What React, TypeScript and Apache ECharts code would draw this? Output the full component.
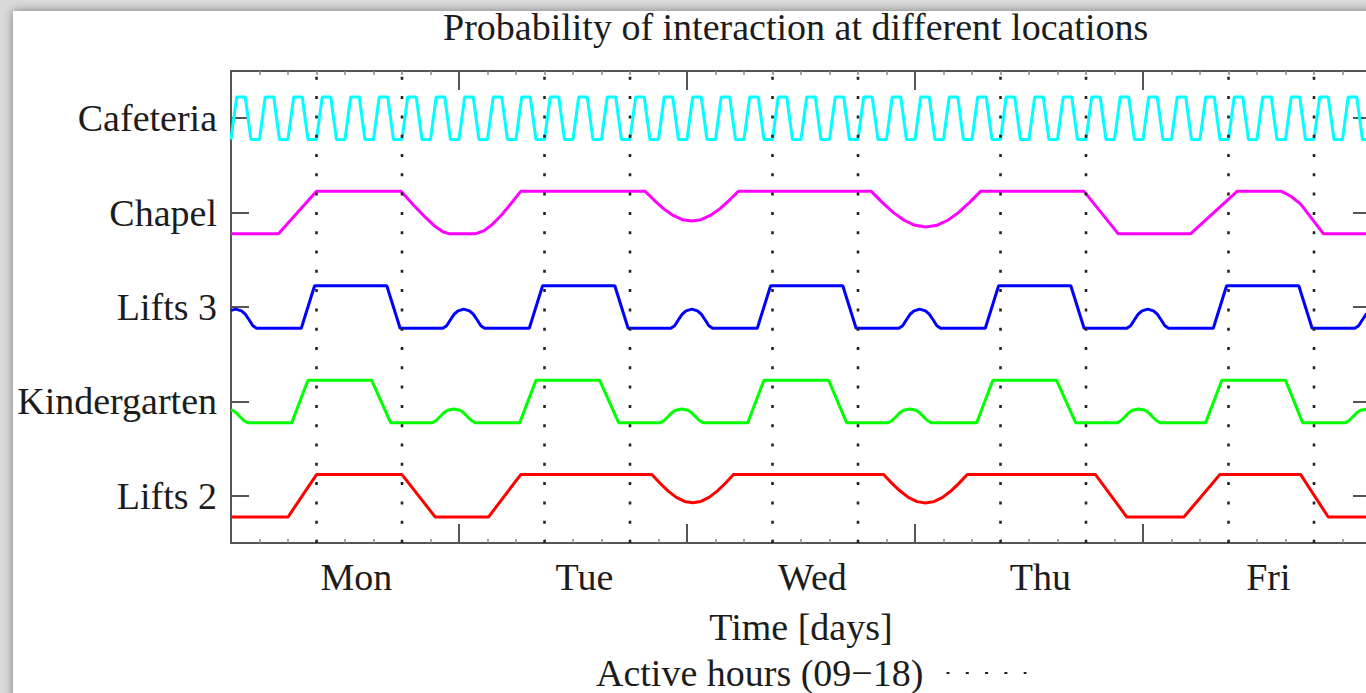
import React, { useEffect, useRef } from 'react';
import * as echarts from 'echarts';

// ---------- data (hours since Monday 00:00, probability 0..1) ----------
const locations = ['Lifts 2', 'Kindergarten', 'Lifts 3', 'Chapel', 'Cafeteria'];
const locationColors = ['#ff0000', '#00ff00', '#0000ff', '#ff00ff', '#00ffff'];
const locationTicks = [0, 1, 2, 3, 4];

const dayLabels = ['Mon', 'Tue', 'Wed', 'Thu', 'Fri'];
const dayLabelHours = [13.2, 37.2, 61.2, 85.2, 109.2];
const activeHourLines = [9, 18, 33, 42, 57, 66, 81, 90, 105, 114];
const activeLegend = 'Active hours (09\u221218)';

const lifts2: number[][] = [
  [0, 0], [6, 0], [9, 1], [18, 1], [21.5, 0], [27.1, 0], [30.5, 1], [44.3, 1],
  [45.16, 0.795], [46.02, 0.609], [46.88, 0.462], [47.74, 0.368], [48.6, 0.335], [49.46, 0.368],
  [50.32, 0.462], [51.18, 0.609], [52.04, 0.795], [52.9, 1],
  [68.7, 1], [69.58, 0.793], [70.46, 0.606], [71.34, 0.458], [72.22, 0.363], [73.1, 0.33],
  [73.98, 0.363], [74.86, 0.458], [75.74, 0.606], [76.62, 0.793], [77.5, 1],
  [91, 1], [94.3, 0], [100.3, 0], [104.1, 1], [112.6, 1], [115.5, 0], [120, 0],
];

const kindergarten: number[][] = [
  [0, 0.295], [0.15, 0.29], [0.55, 0.23], [0.95, 0.14], [1.35, 0.05], [1.75, 0],
  [6.4, 0], [8.1, 1], [14.8, 1], [16.8, 0],
  [21.2, 0], [21.6, 0.05], [22.0, 0.14], [22.4, 0.23], [22.8, 0.29], [23.45, 0.32], [24.1, 0.29], [24.5, 0.23], [24.9, 0.14], [25.3, 0.05], [25.7, 0],
  [30.4, 0], [32.1, 1], [38.8, 1], [40.8, 0],
  [45.2, 0], [45.6, 0.05], [46.0, 0.14], [46.4, 0.23], [46.8, 0.29], [47.45, 0.32], [48.1, 0.29], [48.5, 0.23], [48.9, 0.14], [49.3, 0.05], [49.7, 0],
  [54.4, 0], [56.1, 1], [62.9, 1], [64.8, 0],
  [69.2, 0], [69.6, 0.05], [70.0, 0.14], [70.4, 0.23], [70.8, 0.29], [71.45, 0.32], [72.1, 0.29], [72.5, 0.23], [72.9, 0.14], [73.3, 0.05], [73.7, 0],
  [78.5, 0], [80.2, 1], [86.9, 1], [88.9, 0],
  [93.3, 0], [93.7, 0.05], [94.1, 0.14], [94.5, 0.23], [94.9, 0.29], [95.55, 0.32], [96.2, 0.29], [96.6, 0.23], [97.0, 0.14], [97.4, 0.05], [97.8, 0],
  [102.6, 0], [104.3, 1], [111.0, 1], [112.8, 0],
  [117.3, 0], [117.7, 0.05], [118.1, 0.14], [118.5, 0.23], [118.9, 0.29], [119.55, 0.32], [120, 0.3],
];

const lifts3: number[][] = [
  [0, 0.42], [0.5, 0.45], [1.1, 0.41], [1.5, 0.33], [1.9, 0.2], [2.3, 0.06], [2.7, 0],
  [7.4, 0], [8.8, 1], [16.4, 1], [17.8, 0],
  [22.3, 0], [22.7, 0.06], [23.1, 0.2], [23.5, 0.33], [23.9, 0.41], [24.5, 0.45], [25.1, 0.41], [25.5, 0.33], [25.9, 0.2], [26.3, 0.06], [26.7, 0],
  [31.4, 0], [32.8, 1], [40.4, 1], [41.8, 0],
  [46.3, 0], [46.7, 0.06], [47.1, 0.2], [47.5, 0.33], [47.9, 0.41], [48.5, 0.45], [49.1, 0.41], [49.5, 0.33], [49.9, 0.2], [50.3, 0.06], [50.7, 0],
  [55.4, 0], [56.8, 1], [64.4, 1], [65.8, 0],
  [70.3, 0], [70.7, 0.06], [71.1, 0.2], [71.5, 0.33], [71.9, 0.41], [72.5, 0.45], [73.1, 0.41], [73.5, 0.33], [73.9, 0.2], [74.3, 0.06], [74.7, 0],
  [79.4, 0], [80.8, 1], [88.4, 1], [89.8, 0],
  [94.3, 0], [94.7, 0.06], [95.1, 0.2], [95.5, 0.33], [95.9, 0.41], [96.5, 0.45], [97.1, 0.41], [97.5, 0.33], [97.9, 0.2], [98.3, 0.06], [98.7, 0],
  [103.4, 0], [104.8, 1], [112.4, 1], [113.8, 0],
  [118.3, 0], [118.7, 0.06], [119.1, 0.2], [119.5, 0.33], [119.9, 0.41], [120, 0.42],
];

const chapel: number[][] = [
  [0, 0], [5, 0], [9, 1], [17.9, 1], [19.2, 0.68], [20.5, 0.38], [21.5, 0.17], [22.3, 0.05], [23, 0], [25.7, 0],
  [26.6, 0.07], [27.5, 0.22], [28.5, 0.45], [29.5, 0.72], [30.5, 1],
  [43.6, 1], [44.58, 0.784], [45.56, 0.588], [46.54, 0.434], [47.52, 0.334], [48.5, 0.3], [49.48, 0.334],
  [50.46, 0.434], [51.44, 0.588], [52.42, 0.784], [53.4, 1],
  [67.4, 1], [68.55, 0.74], [69.7, 0.506], [70.85, 0.32], [72.0, 0.201], [73.15, 0.16], [74.3, 0.201],
  [75.45, 0.32], [76.6, 0.506], [77.75, 0.74], [78.9, 1],
  [89.8, 1], [93.4, 0], [101, 0], [105.9, 1], [110.6, 1], [111.6, 0.88], [112.6, 0.7], [115, 0], [120, 0],
];

const cafeteria: number[][] = [
  [0, 0], [0.6, 1], [1.5, 1], [2.1, 0], [3, 0], [3.6, 1], [4.5, 1], [5.1, 0],
  [6, 0], [6.6, 1], [7.5, 1], [8.1, 0], [9, 0], [9.6, 1], [10.5, 1], [11.1, 0],
  [12, 0], [12.6, 1], [13.5, 1], [14.1, 0], [15, 0], [15.6, 1], [16.5, 1], [17.1, 0],
  [18, 0], [18.6, 1], [19.5, 1], [20.1, 0], [21, 0], [21.6, 1], [22.5, 1], [23.1, 0],
  [24, 0], [24.6, 1], [25.5, 1], [26.1, 0], [27, 0], [27.6, 1], [28.5, 1], [29.1, 0],
  [30, 0], [30.6, 1], [31.5, 1], [32.1, 0], [33, 0], [33.6, 1], [34.5, 1], [35.1, 0],
  [36, 0], [36.6, 1], [37.5, 1], [38.1, 0], [39, 0], [39.6, 1], [40.5, 1], [41.1, 0],
  [42, 0], [42.6, 1], [43.5, 1], [44.1, 0], [45, 0], [45.6, 1], [46.5, 1], [47.1, 0],
  [48, 0], [48.6, 1], [49.5, 1], [50.1, 0], [51, 0], [51.6, 1], [52.5, 1], [53.1, 0],
  [54, 0], [54.6, 1], [55.5, 1], [56.1, 0], [57, 0], [57.6, 1], [58.5, 1], [59.1, 0],
  [60, 0], [60.6, 1], [61.5, 1], [62.1, 0], [63, 0], [63.6, 1], [64.5, 1], [65.1, 0],
  [66, 0], [66.6, 1], [67.5, 1], [68.1, 0], [69, 0], [69.6, 1], [70.5, 1], [71.1, 0],
  [72, 0], [72.6, 1], [73.5, 1], [74.1, 0], [75, 0], [75.6, 1], [76.5, 1], [77.1, 0],
  [78, 0], [78.6, 1], [79.5, 1], [80.1, 0], [81, 0], [81.6, 1], [82.5, 1], [83.1, 0],
  [84, 0], [84.6, 1], [85.5, 1], [86.1, 0], [87, 0], [87.6, 1], [88.5, 1], [89.1, 0],
  [90, 0], [90.6, 1], [91.5, 1], [92.1, 0], [93, 0], [93.6, 1], [94.5, 1], [95.1, 0],
  [96, 0], [96.6, 1], [97.5, 1], [98.1, 0], [99, 0], [99.6, 1], [100.5, 1], [101.1, 0],
  [102, 0], [102.6, 1], [103.5, 1], [104.1, 0], [105, 0], [105.6, 1], [106.5, 1], [107.1, 0],
  [108, 0], [108.6, 1], [109.5, 1], [110.1, 0], [111, 0], [111.6, 1], [112.5, 1], [113.1, 0],
  [114, 0], [114.6, 1], [115.5, 1], [116.1, 0], [117, 0], [117.6, 1], [118.5, 1], [119.1, 0],
  [120, 0],
];

const locationSeries = [lifts2, kindergarten, lifts3, chapel, cafeteria];

// ---------- chart ----------
const FONT = '"Liberation Serif", "DejaVu Serif", serif';
const TEXT = '#1c1c1c';
const AXIS = '#555555';
const BAND = 0.45; // vertical span of one probability trace, in category units

function buildOption(): any {
  const lineSeries = locationSeries.map((pts, i) => ({
    type: 'line',
    name: locations[i],
    data: pts.map(([h, p]) => [h, locationTicks[i] + (p - 0.5) * BAND]),
    symbol: 'none',
    showSymbol: false,
    silent: true,
    z: 3,
    lineStyle: { color: locationColors[i], width: 3 },
    itemStyle: { color: locationColors[i] },
  }));

  const dotted = {
    type: 'line',
    name: activeLegend,
    data: activeHourLines.flatMap((h) => [[h, -0.5], [h, 4.5], [h, '-']]),
    symbol: 'none',
    showSymbol: false,
    silent: true,
    connectNulls: false,
    z: 4,
    lineStyle: { color: '#222222', width: 2.6, type: [3, 16.3], cap: 'butt' },
    itemStyle: { color: '#222222' },
  };

  const xCommon = {
    type: 'value',
    min: 0,
    max: 120,
    interval: 24,
    splitLine: { show: false },
    minorSplitLine: { show: false },
    axisLine: { show: true, onZero: false, lineStyle: { color: AXIS, width: 2 } },
    axisTick: { show: true, inside: true, length: 19, lineStyle: { color: AXIS, width: 2 } },
    minorTick: { show: true, splitNumber: 8, length: 4, lineStyle: { color: '#888888', width: 1.5 } },
  };

  const yCommon = {
    type: 'value',
    min: -0.5,
    max: 4.5,
    splitLine: { show: false },
    axisLine: { show: true, onZero: false, lineStyle: { color: AXIS, width: 2 } },
    axisTick: { show: true, inside: true, length: 18, customValues: locationTicks, lineStyle: { color: AXIS, width: 2 } },
  };

  return {
    animation: false,
    backgroundColor: '#d9d9d9',
    graphic: [
      {
        type: 'rect',
        z: -100,
        zlevel: 0,
        silent: true,
        shape: { x: 13, y: 11, width: 1400, height: 700 },
        style: { fill: '#ffffff', shadowBlur: 10, shadowColor: 'rgba(0,0,0,0.45)', shadowOffsetX: 0, shadowOffsetY: 0 },
      },
    ],
    title: {
      text: 'Probability of interaction at different locations',
      left: 438,
      top: 3,
      textStyle: { fontFamily: FONT, fontSize: 38, fontWeight: 'normal', color: TEXT },
    },
    legend: {
      data: [activeLegend],
      left: 591,
      top: 649,
      align: 'right',
      selectedMode: false,
      itemWidth: 80,
      itemHeight: 14,
      itemStyle: { color: 'rgba(0,0,0,0)', borderWidth: 0, opacity: 0 },
      textStyle: { fontFamily: FONT, fontSize: 38, color: TEXT, padding: [0, 18, 0, 0] },
    },
    grid: { left: 231, top: 71, width: 1140, height: 472, outerBoundsMode: 'none', containLabel: false },
    xAxis: [
      {
        ...xCommon,
        position: 'bottom',
        name: 'Time [days]',
        nameLocation: 'middle',
        nameGap: 65,
        nameTextStyle: { fontFamily: FONT, fontSize: 38, color: TEXT },
        axisLabel: {
          show: true,
          customValues: dayLabelHours,
          margin: 15,
          fontFamily: FONT,
          fontSize: 38,
          color: TEXT,
          formatter: (v: number) => {
            const i = dayLabelHours.findIndex((d) => Math.abs(d - v) < 0.01);
            return i >= 0 ? dayLabels[i] : '';
          },
        },
      },
      { ...xCommon, position: 'top', axisLabel: { show: false } },
    ],
    yAxis: [
      {
        ...yCommon,
        position: 'left',
        axisLabel: {
          show: true,
          customValues: locationTicks,
          margin: 14,
          fontFamily: FONT,
          fontSize: 38,
          color: TEXT,
          padding: [0, 0, 6, 0],
          formatter: (v: number) => locations[Math.round(v)] ?? '',
        },
      },
      { ...yCommon, position: 'right', axisLabel: { show: false } },
    ],
    series: [...lineSeries, dotted],
  };
}

export default function App() {
  const ref = useRef<HTMLDivElement>(null);
  useEffect(() => {
    if (!ref.current) return;
    const chart = echarts.init(ref.current, null, { renderer: 'svg' });
    chart.setOption(buildOption());
    return () => chart.dispose();
  }, []);
  return (
    <div
      ref={ref}
      style={{ position: 'fixed', left: 0, top: 0, width: 1366, height: 693, overflow: 'hidden' }}
    />
  );
}
